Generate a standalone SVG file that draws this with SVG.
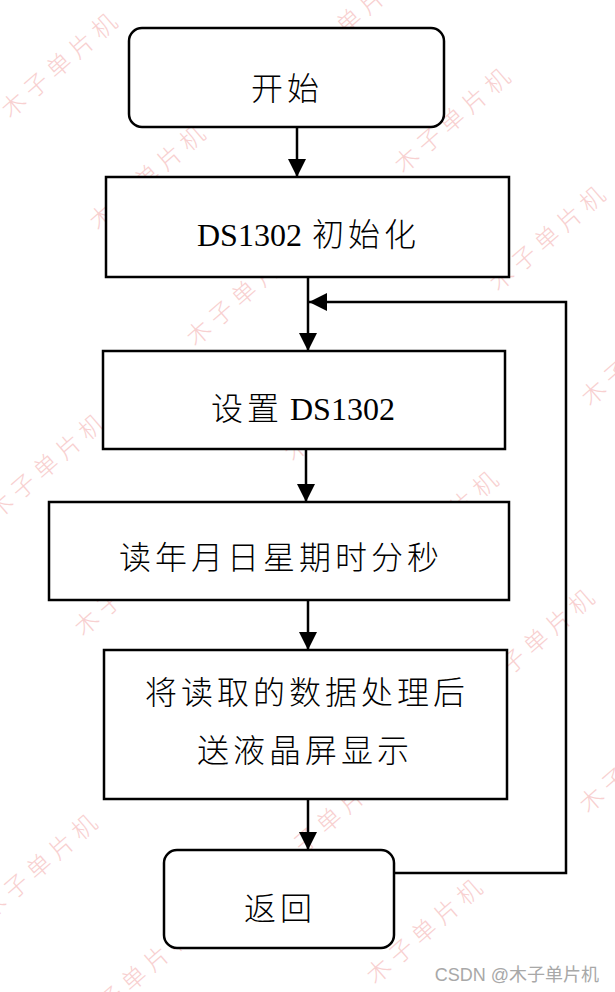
<svg xmlns="http://www.w3.org/2000/svg" width="615" height="992" viewBox="0 0 615 992">
<style>
.box{fill:#fff;stroke:#000;stroke-width:2.5}
.ln{fill:none;stroke:#000;stroke-width:2.5}
.lbl{font-family:"Liberation Serif","Noto Sans CJK SC",serif;font-size:32px;font-weight:300;fill:#000}
.cjk{letter-spacing:4px}
.wm{font-family:"Noto Sans CJK SC",sans-serif;font-size:24px;font-weight:300;letter-spacing:6px;fill:#f8d0d0;text-anchor:middle;dominant-baseline:central}
.csdn{font-family:"Liberation Sans","Noto Sans CJK SC",sans-serif;font-size:18px;fill:#a8a8a8;text-anchor:end}
</style>
<defs>
<marker id="ah" markerUnits="userSpaceOnUse" markerWidth="18" markerHeight="18" refX="18" refY="9" orient="auto">
<path d="M0,0 L18,9 L0,18 Z" fill="#000"/>
</marker>
</defs>
<rect width="615" height="992" fill="#fff"/>
<g id="watermarks">
<text class="wm" transform="translate(60,62) rotate(-41)">木子单片机</text>
<text class="wm" transform="translate(148,174) rotate(-41)">木子单片机</text>
<text class="wm" transform="translate(245,290) rotate(-41)">木子单片机</text>
<text class="wm" transform="translate(350,18) rotate(-41)">木子单片机</text>
<text class="wm" transform="translate(453,117) rotate(-41)">木子单片机</text>
<text class="wm" transform="translate(548,235) rotate(-41)">木子单片机</text>
<text class="wm" transform="translate(640,350) rotate(-41)">木子单片机</text>
<text class="wm" transform="translate(47,463) rotate(-41)">木子单片机</text>
<text class="wm" transform="translate(343,405) rotate(-41)">木子单片机</text>
<text class="wm" transform="translate(133,580) rotate(-41)">木子单片机</text>
<text class="wm" transform="translate(441,520) rotate(-41)">木子单片机</text>
<text class="wm" transform="translate(537,638) rotate(-41)">木子单片机</text>
<text class="wm" transform="translate(231,700) rotate(-41)">木子单片机</text>
<text class="wm" transform="translate(638,757) rotate(-41)">木子单片机</text>
<text class="wm" transform="translate(40,863) rotate(-41)">木子单片机</text>
<text class="wm" transform="translate(330,817) rotate(-41)">木子单片机</text>
<text class="wm" transform="translate(135,975) rotate(-41)">木子单片机</text>
<text class="wm" transform="translate(425,928) rotate(-41)">木子单片机</text>
</g>
<g id="connectors">
<line class="ln" x1="297" y1="127" x2="297" y2="177" marker-end="url(#ah)"/>
<line class="ln" x1="308" y1="277" x2="308" y2="351" marker-end="url(#ah)"/>
<line class="ln" x1="306" y1="449" x2="306" y2="502" marker-end="url(#ah)"/>
<line class="ln" x1="308" y1="600" x2="308" y2="650" marker-end="url(#ah)"/>
<line class="ln" x1="308" y1="799" x2="308" y2="850" marker-end="url(#ah)"/>
<polyline class="ln" points="394,873 566,873 566,302 309,302" marker-end="url(#ah)"/>
</g>
<g id="n_start">
<rect class="box" x="129" y="28" width="315" height="99" rx="13"/>
<text class="lbl cjk" x="251" y="100">开始</text>
</g>
<g id="n_init">
<rect class="box" x="106" y="177" width="403" height="100"/>
<text class="lbl" y="246"><tspan x="197">DS1302</tspan><tspan class="cjk" x="312">初始化</tspan></text>
</g>
<g id="n_set">
<rect class="box" x="103" y="351" width="402" height="98"/>
<text class="lbl" y="420"><tspan class="cjk" x="211">设置</tspan><tspan x="290">DS1302</tspan></text>
</g>
<g id="n_read">
<rect class="box" x="49" y="502" width="460" height="98"/>
<text class="lbl cjk" x="119" y="569">读年月日星期时分秒</text>
</g>
<g id="n_proc">
<rect class="box" x="104" y="650" width="403" height="149"/>
<text class="lbl cjk" x="145" y="704">将读取的数据处理后</text>
<text class="lbl cjk" x="197" y="762">送液晶屏显示</text>
</g>
<g id="n_return">
<rect class="box" x="164" y="850" width="230" height="98" rx="13"/>
<text class="lbl cjk" x="244" y="920">返回</text>
</g>
<text class="csdn" x="599" y="981">CSDN @木子单片机</text>
</svg>
